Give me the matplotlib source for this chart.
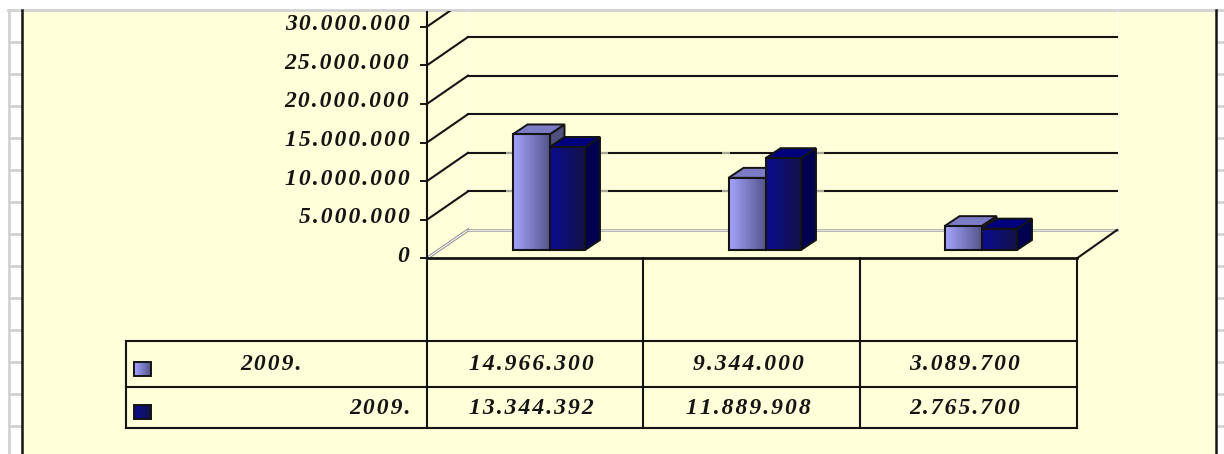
"""Redraw the 3D looking bar chart with its data table."""

import matplotlib

matplotlib.use("Agg")

import matplotlib.pyplot as plt
import numpy as np
from matplotlib.patches import Polygon, Rectangle

W, H = 1224, 454
DPI = 100

# data
series_names = ["2009.", "2009."]
series_a = [14966300, 9344000, 3089700]
series_b = [13344392, 11889908, 2765700]
a_labels = ["14.966.300", "9.344.000", "3.089.700"]
b_labels = ["13.344.392", "11.889.908", "2.765.700"]
axis_ticks = [0, 5000000, 10000000, 15000000, 20000000, 25000000, 30000000]
axis_labels = ["0", "5.000.000", "10.000.000", "15.000.000", "20.000.000", "25.000.000", "30.000.000"]

# layout, in pixels of the picture
PX_PER_UNIT = 38.6 / 5000000
BAR_BASE = 250
FRONT_BASE = 258.3
WALL_BASE = 230
PANEL = (22, 1215, 11, 454)
BAR_LEFT = [512.5, 728.5, 944.5]
BAR_W = [37, 35.5]
DEPTH_X, DEPTH_Y = 15, 10
COL_X = [427, 643, 860, 1077]
TABLE_LEFT = 126
ROW_Y = [341, 386.5, 428]
WALL_X = (468, 1117)

CREAM = "#FFFFD9"
INK = "#141414"
GRID_FADE = "#A8A898"
PAGE_GRID = "#D2D2D2"
LIGHT = ("#A4A4FF", "#55558C", "#7C7CC4", "#50507E")
DARK = ("#0C0C90", "#121248", "#00007E", "#000050")

FONT = dict(family=["Liberation Serif", "DejaVu Sans"], style="italic", weight="bold", color=INK)
FONT_SIZE = 17


def spaced(text):
    return "\u200a".join(text)


def gradient(ax, c0, c1, x0, x1, y0, y1, zorder):
    c0 = np.array(matplotlib.colors.to_rgb(c0))
    c1 = np.array(matplotlib.colors.to_rgb(c1))
    t = np.linspace(0, 1, 32)[:, None]
    img = (c0 * (1 - t) + c1 * t)[None, :, :]
    ax.imshow(img, extent=(x0, x1, y0, y1), aspect="auto", zorder=zorder, interpolation="bilinear")


fig = plt.figure(figsize=(W / DPI, H / DPI), dpi=DPI, facecolor="white")

# page behind the chart
page = fig.add_axes([0, 0, 1, 1])
page.set_xlim(0, W)
page.set_ylim(H, 0)
page.axis("off")
page.add_patch(Rectangle((22, 10), 1193, 444, facecolor=CREAM, edgecolor="none"))
page.plot([8, W], [10, 10], color=PAGE_GRID, lw=2)
page.plot([9.2, 9.2], [10, H], color=PAGE_GRID, lw=2)
for y in range(42, H, 32):
    page.plot([9, 21], [y, y], color=PAGE_GRID, lw=2)
    page.plot([1217, W], [y, y], color=PAGE_GRID, lw=2)
page.plot([21.5, 21.5], [10, H], color=INK, lw=1.8)
page.plot([1215.7, 1215.7], [10, H], color=INK, lw=1.8)

# data table
for y in ROW_Y:
    page.plot([TABLE_LEFT, COL_X[-1]], [y, y], color=INK, lw=1.5, solid_capstyle="projecting")
page.plot([TABLE_LEFT, TABLE_LEFT], [ROW_Y[0], ROW_Y[-1]], color=INK, lw=1.5)
for x in COL_X:
    page.plot([x, x], [FRONT_BASE, ROW_Y[-1]], color=INK, lw=1.5)

row_text_y = [365, 408]
name_x = [271, 380]
swatch_y = [(362, 376), (405, 419)]
rows = [(series_names[0], a_labels, LIGHT), (series_names[1], b_labels, DARK)]
for i, (name, labels, colors) in enumerate(rows):
    page.text(name_x[i], row_text_y[i], spaced(name), ha="center", va="center", fontsize=FONT_SIZE, **FONT)
    y0, y1 = swatch_y[i]
    gradient(page, colors[0], colors[1], 134, 151, y1, y0, 3)
    page.add_patch(Rectangle((134, y0), 17, y1 - y0, fill=False, edgecolor=INK, lw=1.4, zorder=4))
    for j, label in enumerate(labels):
        xc = (COL_X[j] + COL_X[j + 1]) / 2 - 3.5
        page.text(xc, row_text_y[i], spaced(label), ha="center", va="center", fontsize=FONT_SIZE, **FONT)
page.set_xlim(0, W)
page.set_ylim(H, 0)

# value axes: x stays in pixels, y is in the chart's units
left, right, top, bottom = PANEL
ax = fig.add_axes([left / W, 1 - bottom / H, (right - left) / W, (bottom - top) / H])
ax.patch.set_alpha(0)
ax.axis("off")
y_low = (BAR_BASE - bottom) / PX_PER_UNIT
y_high = (BAR_BASE - top) / PX_PER_UNIT


def wall(px_base, value=0):
    return value + (BAR_BASE - px_base) / PX_PER_UNIT


depth_v = DEPTH_Y / PX_PER_UNIT

# walls, floor and the front axis
for tick, label in zip(axis_ticks, axis_labels):
    y_front = wall(FRONT_BASE, tick)
    y_back = wall(WALL_BASE, tick)
    if tick == 0:
        ax.plot([COL_X[0], WALL_X[0]], [y_front, y_back], color="#8A8A8A", lw=2.2, zorder=1)
        ax.plot([COL_X[0], WALL_X[0]], [y_front, y_back], color="white", lw=0.8, zorder=1)
        ax.plot(WALL_X, [y_back, y_back], color="#A0A0A0", lw=1.8, zorder=1)
        ax.plot(WALL_X, [y_back, y_back], color="white", lw=0.5, zorder=1)
    else:
        ax.plot([COL_X[0], WALL_X[0]], [y_front, y_back], color=INK, lw=1.5, zorder=1)
        ax.plot(WALL_X, [y_back, y_back], color=INK, lw=1.5, zorder=1)
        for k, base_left in enumerate(BAR_LEFT):
            peak = max(series_a[k], series_b[k]) + depth_v
            if y_back < peak:
                x_end = base_left + sum(BAR_W) + DEPTH_X
                ax.plot([base_left - 6, base_left], [y_back, y_back], color=GRID_FADE, lw=1.5, zorder=1.5)
                ax.plot([x_end, x_end + 7], [y_back, y_back], color=GRID_FADE, lw=1.5, zorder=1.5)
    ax.plot([COL_X[0] - 6, COL_X[0]], [y_front, y_front], color=INK, lw=1.4, zorder=2)
    ax.text(409.5, y_front + 2 / PX_PER_UNIT, spaced(label), ha="right", va="center", fontsize=FONT_SIZE, **FONT)

ax.plot([COL_X[0], COL_X[0]], [wall(FRONT_BASE), y_high], color=INK, lw=1.5, zorder=2)
ax.plot([WALL_X[0]] * 2, [wall(WALL_BASE), y_high], color="white", lw=0.6, zorder=0.5)
ax.plot([WALL_X[1]] * 2, [wall(WALL_BASE), y_high], color="white", lw=0.6, zorder=0.5)
ax.plot([COL_X[0], COL_X[-1]], [wall(FRONT_BASE)] * 2, color=INK, lw=2, zorder=2)
ax.plot([COL_X[-1], WALL_X[1]], [wall(FRONT_BASE), wall(WALL_BASE)], color=INK, lw=1.5, zorder=2)


def draw_bar(x0, width, value, colors, zorder):
    x1 = x0 + width
    # side face and top face first, the front goes over them
    side = [(x1, 0), (x1 + DEPTH_X, depth_v), (x1 + DEPTH_X, value + depth_v), (x1, value)]
    ax.add_patch(Polygon(side, facecolor=colors[3], edgecolor=INK, lw=1.4, zorder=zorder))
    roof = [(x0, value), (x0 + DEPTH_X, value + depth_v), (x1 + DEPTH_X, value + depth_v), (x1, value)]
    ax.add_patch(Polygon(roof, facecolor=colors[2], edgecolor=INK, lw=1.4, zorder=zorder))
    gradient(ax, colors[0], colors[1], x0, x1, 0, value, zorder + 0.1)
    ax.add_patch(Rectangle((x0, 0), width, value, fill=False, edgecolor=INK, lw=1.5, zorder=zorder + 0.2))


for k, base_left in enumerate(BAR_LEFT):
    draw_bar(base_left, BAR_W[0], series_a[k], LIGHT, 3)
    draw_bar(base_left + BAR_W[0], BAR_W[1], series_b[k], DARK, 4)

ax.set_xlim(left, right)
ax.set_ylim(y_low, y_high)

fig.savefig("out.png", dpi=DPI)
